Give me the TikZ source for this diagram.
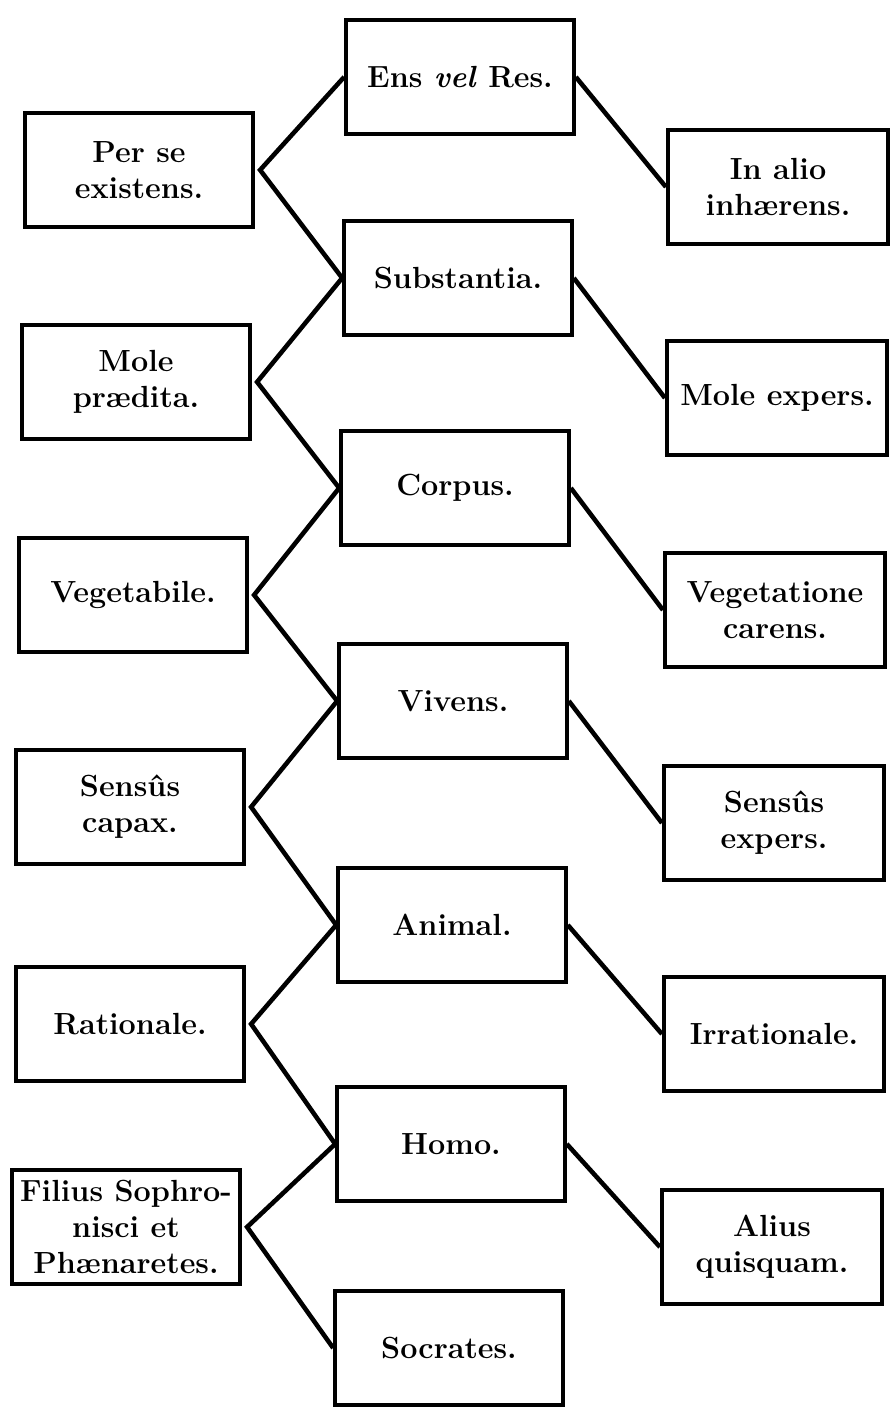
\documentclass[tikz,border=0pt]{standalone}
\usepackage{tikz}
\usetikzlibrary{positioning}
\tikzset{
  box/.style={draw=black,line width=2.4pt,fill=white,align=center,
    font=\fontsize{17.4}{20.5}\selectfont\bfseries,
    minimum width=4.55cm,minimum height=2.28cm,inner sep=2pt},
  link/.style={line width=2.6pt,draw=black},
}
\begin{document}
\begin{tikzpicture}[x=0.02cm,y=-0.02cm]
  \useasboundingbox (0,0) rectangle (889,1408);
  % middle column
  \node[box] (ens)    at (460,77)   {Ens \textit{vel} Res.};
  \node[box] (subst)  at (458,278)  {Substantia.};
  \node[box] (corpus) at (455,488)  {Corpus.};
  \node[box] (vivens) at (453,701)  {Vivens.};
  \node[box] (animal) at (452,925)  {Animal.};
  \node[box] (homo)   at (451,1144) {Homo.};
  \node[box] (socr)   at (449,1348) {Socrates.};
  % left column
  \node[box] (perse)  at (139,170)  {Per se\\existens.};
  \node[box] (mole)   at (136,382)  {Mole\\pr\ae dita.};
  \node[box] (veget)  at (133,595)  {Vegetabile.};
  \node[box] (sensus) at (130,807)  {Sens\^us\\capax.};
  \node[box] (ratio)  at (130,1024) {Rationale.};
  \node[box,inner sep=0pt] (filius) at (126,1227) {Filius Sophro-\\nisci et\\Ph\ae naretes.};
  % right column
  \node[box,minimum width=4.4cm] (inalio)  at (778,187)  {In alio\\inh\ae rens.};
  \node[box,minimum width=4.4cm] (expers)  at (777,398)  {Mole expers.};
  \node[box,minimum width=4.4cm] (carens)  at (775,610)  {Vegetatione\\carens.};
  \node[box,minimum width=4.4cm] (sexpers) at (774,823)  {Sens\^us\\expers.};
  \node[box,minimum width=4.4cm] (irrat)   at (774,1034) {Irrationale.};
  \node[box,minimum width=4.4cm] (alius)   at (772,1247) {Alius\\quisquam.};
  % connectors
  \foreach \l/\a/\b in {perse/ens/subst, mole/subst/corpus, veget/corpus/vivens,
                        sensus/vivens/animal, ratio/animal/homo, filius/homo/socr}
  {
    \draw[link] (\a.west) -- ([xshift=3pt]\l.east) -- (\b.west);
  }
  \foreach \a/\b in {ens/inalio, subst/expers, corpus/carens, vivens/sexpers,
                     animal/irrat, homo/alius}
  {
    \draw[link] (\a.east) -- (\b.west);
  }
\end{tikzpicture}
\end{document}
